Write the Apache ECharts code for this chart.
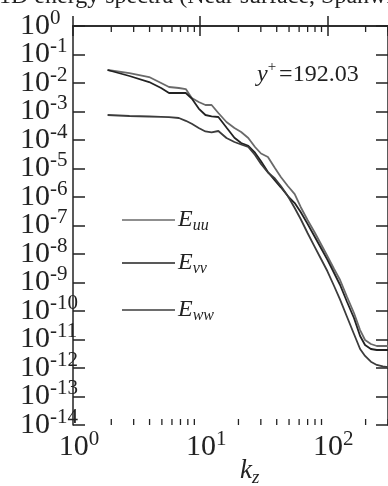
<!DOCTYPE html>
<html>
<head>
<meta charset="utf-8">
<script src="https://cdn.jsdelivr.net/npm/echarts@6/dist/echarts.min.js"></script>
<style>
  html, body { margin: 0; padding: 0; background: #fff; }
  #chart { width: 388px; height: 486px; }
</style>
</head>
<body>
<div id="chart"></div>
<script>
// wavenumbers (shared by all three spectra)
const kz = [1.87, 2.78, 3.97, 4.93, 5.69, 6.8, 7.71, 8.59, 9.74, 11.0, 12.3, 13.9, 16.1, 18.6, 21.0, 23.9,
  27.0, 30.1, 34.1, 38.7, 43.1, 48.9, 55.4, 61.7, 69.9, 79.2, 88.2, 100, 113, 126, 143, 162, 181, 198,
  220, 245, 273, 300]

const Euu = [2.86e-2, 2.24e-2, 1.62e-2, 1.0e-2, 7.24e-3, 6.68e-3, 6.15e-3, 2.98e-3, 2.15e-3, 1.69e-3,
  1.69e-3, 8.86e-4, 4.28e-4, 2.64e-4, 1.91e-4, 1.18e-4, 5.68e-5, 3.36e-5, 2.53e-5, 1.04e-5, 5.03e-6,
  2.43e-6, 1.27e-6, 4.46e-7, 1.56e-7, 5.92e-8, 2.43e-8, 8.51e-9, 2.98e-9, 1.22e-9, 3.10e-10, 8.51e-11,
  2.15e-11, 9.60e-12, 6.95e-12, 5.92e-12, 5.92e-12, 5.92e-12]

const Evv = [2.86e-2, 1.76e-2, 1.08e-2, 6.68e-3, 4.46e-3, 4.46e-3, 4.46e-3, 2.86e-3, 1.27e-3, 7.54e-4,
  6.79e-4, 6.41e-4, 2.75e-4, 1.20e-4, 7.85e-5, 6.25e-5, 3.58e-5, 1.79e-5, 7.54e-6, 3.82e-6, 2.19e-6,
  1.08e-6, 6.15e-7, 2.98e-7, 1.14e-7, 4.21e-8, 1.76e-8, 6.37e-9, 2.15e-9, 8.17e-10, 2.07e-10, 5.68e-11,
  1.33e-11, 6.41e-12, 4.64e-12, 4.28e-12, 4.28e-12, 4.28e-12]

const Eww = [7.54e-4, 6.95e-4, 6.68e-4, 6.52e-4, 6.31e-4, 5.92e-4, 4.72e-4, 3.70e-4, 2.64e-4, 1.99e-4,
  1.85e-4, 2.07e-4, 1.18e-4, 8.51e-5, 6.95e-5, 5.68e-5, 2.98e-5, 1.44e-5, 7.24e-6, 4.46e-6, 2.43e-6,
  1.08e-6, 4.11e-7, 1.69e-7, 5.46e-8, 1.86e-8, 7.41e-9, 2.53e-9, 7.54e-10, 2.49e-10, 6.15e-11, 1.56e-11,
  4.64e-12, 2.64e-12, 1.66e-12, 1.28e-12, 1.13e-12, 1.08e-12]

// axis ranges (decades) and minor tick values
const xRange = [1, 300]
const yRange = [1e-14, 1]
const minorTicks = [2, 3, 4, 5, 6, 7, 8, 9, 20, 30, 40, 50, 60, 70, 80, 90, 200, 300]

const names = ['E_uu', 'E_vv', 'E_ww']
const subs = ['uu', 'vv', 'ww']
const colors = ['#6a6a6a', '#222222', '#3c3c3c']
const legendTops = [206, 249, 296]

const ink = '#222'
const serif = '"Liberation Serif", "Times New Roman", serif'
const lg = Math.log10

const toPairs = (vals) => kz.map((k, i) => [lg(k), lg(vals[i])])

const powLabel = {
  b: { fontSize: 30, fontFamily: serif, color: ink, lineHeight: 22 },
  s: { fontSize: 21, fontFamily: serif, color: ink, lineHeight: 8, padding: [0, 0, 16, 0] }
}
const pow = (v) => '{b|10}{s|' + Math.round(v) + '}'

const axisLineStyle = { color: ink, width: 1.5 }

// y labels are split over two stacked axes (even / odd decades) so the
// tightly packed labels are never dropped by the overlap check
const yLabelAxis = (keepOdd, extra) => Object.assign({
  type: 'value', min: lg(yRange[0]), max: lg(yRange[1]), interval: 1,
  splitLine: { show: false },
  axisLabel: {
    margin: 53, align: 'left', showMinLabel: true, showMaxLabel: true,
    formatter: (v) => (Math.abs(Math.round(v)) % 2 === 1) === keepOdd ? pow(v) : '',
    rich: powLabel
  }
}, extra)

const chart = echarts.init(document.getElementById('chart'), null, { renderer: 'canvas' })

const option = {
  backgroundColor: '#fff',
  animation: false,
  grid: { left: 73, top: 26, right: -5, bottom: 61, containLabel: false },
  xAxis: [
    {
      type: 'value', min: lg(xRange[0]), max: lg(xRange[1]), interval: 1,
      axisLine: { lineStyle: axisLineStyle },
      axisTick: { inside: true, length: 10, lineStyle: axisLineStyle },
      splitLine: { show: false },
      axisLabel: {
        margin: 11, showMinLabel: true, showMaxLabel: false, padding: [0, 0, 0, 12],
        formatter: pow,
        rich: powLabel
      }
    },
    {
      type: 'value', position: 'top', min: lg(xRange[0]), max: lg(xRange[1]), interval: 1,
      axisLine: { lineStyle: axisLineStyle },
      axisTick: { inside: true, length: 10, lineStyle: axisLineStyle },
      splitLine: { show: false },
      axisLabel: { show: false }
    }
  ],
  yAxis: [
    yLabelAxis(false, {
      axisLine: { lineStyle: axisLineStyle },
      axisTick: { inside: true, length: 12, lineStyle: axisLineStyle }
    }),
    yLabelAxis(true, {
      position: 'left',
      axisLine: { show: false },
      axisTick: { show: false }
    }),
    {
      type: 'value', position: 'right', min: lg(yRange[0]), max: lg(yRange[1]), interval: 1,
      axisLine: { lineStyle: axisLineStyle },
      axisTick: { inside: true, length: 12, lineStyle: axisLineStyle },
      splitLine: { show: false },
      axisLabel: { show: false }
    }
  ],
  legend: names.map((name, i) => ({
    data: [name],
    left: 122,
    top: legendTops[i],
    padding: 0,
    icon: 'rect',
    itemWidth: 53,
    itemHeight: 1.7,
    itemGap: 0,
    selectedMode: false,
    formatter: () => '{e|E}{s|' + subs[i] + '}',
    textStyle: {
      padding: [0, 0, 0, -2],
      rich: {
        e: { fontSize: 24, fontStyle: 'italic', fontFamily: serif, color: ink, lineHeight: 26 },
        s: { fontSize: 16, fontStyle: 'italic', fontFamily: serif, color: ink, lineHeight: 14, padding: [12, 0, 0, 0] }
      }
    }
  })),
  graphic: [
    {
      type: 'text', left: -1, top: -15, silent: true,
      style: { text: '1D energy spectra (Near surface, Spanwise)', font: '24px ' + serif, fill: ink }
    },
    {
      type: 'text', left: 257, top: 60, silent: true,
      style: {
        text: '{i|y}{p|+}{n|=192.03}',
        rich: {
          i: { fontSize: 24, fontStyle: 'italic', fontFamily: serif, fill: ink, lineHeight: 26 },
          p: { fontSize: 15, fontFamily: serif, fill: ink, lineHeight: 12, padding: [0, 3, 14, 0] },
          n: { fontSize: 24, fontFamily: serif, fill: ink, lineHeight: 26 }
        }
      }
    },
    {
      type: 'text', left: 240, top: 454, silent: true,
      style: {
        text: '{k|k}{z|z}',
        rich: {
          k: { fontSize: 27, fontStyle: 'italic', fontFamily: serif, fill: ink, lineHeight: 28 },
          z: { fontSize: 19, fontStyle: 'italic', fontFamily: serif, fill: ink, lineHeight: 14, padding: [14, 0, 0, 0] }
        }
      }
    }
  ],
  series: [
    ...[Euu, Evv, Eww].map((vals, i) => ({
      name: names[i],
      type: 'line',
      data: toPairs(vals),
      showSymbol: false,
      symbol: 'none',
      color: colors[i],
      lineStyle: { color: colors[i], width: 1.8 }
    })),
    {
      type: 'custom',
      silent: true,
      clip: false,
      data: minorTicks.map((m) => [lg(m), 0]),
      encode: { x: 0, y: 1 },
      renderItem: (params, api) => {
        const top = api.coord([api.value(0), lg(yRange[1])])
        const bot = api.coord([api.value(0), lg(yRange[0])])
        const style = { stroke: ink, lineWidth: 1.3 }
        return {
          type: 'group',
          children: [
            { type: 'line', shape: { x1: top[0], y1: top[1], x2: top[0], y2: top[1] + 6 }, style },
            { type: 'line', shape: { x1: bot[0], y1: bot[1], x2: bot[0], y2: bot[1] - 6 }, style }
          ]
        }
      }
    }
  ]
}

chart.setOption(option)
</script>
</body>
</html>
